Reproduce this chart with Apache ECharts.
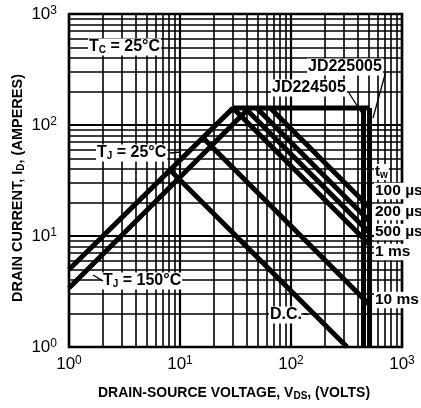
<!DOCTYPE html>
<html>
<head>
<meta charset="utf-8">
<script src="https://cdn.jsdelivr.net/npm/echarts@6/dist/echarts.min.js"></script>
<style>
  html, body { margin: 0; padding: 0; background: #fff; }
  #chart { width: 421px; height: 408px; }
</style>
</head>
<body>
<div id="chart"></div>
<script>
// safe operating area, log-log
const tj25Line = [[1, 5.0], [30, 142]];
const tj150Line = [[1, 3.4], [42, 142]];
const currentLimit = [[30, 142], [510, 142]];
const vLimit450 = [[450, 1], [450, 142]];
const vLimit500 = [[510, 1], [510, 142]];
const pulse100us = [[65, 142], [510, 18.1]];
const pulse200us = [[49, 142], [510, 13.6]];
const pulse500us = [[38.5, 142], [510, 10.7]];
const pulse1ms = [[30, 142], [510, 8.4]];
const pulse10ms = [[16, 77], [510, 2.4]];
const dcLine = [[8, 40], [320, 1]];

// log grid lines between the decades
const minorGrid = [2, 3, 4, 5, 6, 7, 8, 9, 20, 30, 40, 50, 60, 70, 80, 90, 200, 300, 400, 500, 600, 700, 800, 900];

const FONT = '"Liberation Sans", Arial, sans-serif';

const chart = echarts.init(document.getElementById("chart"));

function curve(data, width) {
  return {
    type: "line",
    data: data,
    symbol: "none",
    silent: true,
    z: 5,
    lineStyle: { color: "#000", width: width || 5, cap: "butt" },
  };
}

function powLabel(v) {
  const e = Math.round(Math.log10(v));
  return "{b|10}{s|" + e + "}";
}
const tickRich = {
  b: { fontSize: 17, lineHeight: 19, color: "#000", fontFamily: FONT },
  s: { fontSize: 12, lineHeight: 8, verticalAlign: "top", color: "#000", fontFamily: FONT },
};

function note(x, y, text, size) {
  const s = size || 16;
  return {
    type: "text",
    x: x,
    y: y,
    z: 100,
    style: {
      text: text,
      rich: {
        n: { fontSize: s, fontWeight: "bold", lineHeight: s + 1, fontFamily: FONT },
        sub: { fontSize: 10, fontWeight: "bold", lineHeight: 9, verticalAlign: "bottom", fontFamily: FONT },
      },
      fill: "#000",
      backgroundColor: "#fff",
      padding: [0, 1],
      verticalAlign: "middle",
    },
  };
}

function leader(x1, y1, x2, y2) {
  return {
    type: "line",
    z: 101,
    shape: { x1: x1, y1: y1, x2: x2, y2: y2 },
    style: { stroke: "#000", lineWidth: 1.3 },
  };
}

const option = {
  animation: false,
  backgroundColor: "#fff",
  grid: {
    left: 69,
    top: 14,
    right: 19,
    bottom: 61,
    show: true,
    borderColor: "#000",
    borderWidth: 2.5,
    backgroundColor: "#fff",
  },
  xAxis: {
    type: "log",
    logBase: 10,
    min: 1,
    max: 1000,
    axisLine: { show: false },
    axisTick: { show: false },
    splitLine: { show: true, lineStyle: { color: "#000", width: 2.2 } },
    axisLabel: { margin: 8, fontSize: 17, formatter: powLabel, rich: tickRich },
  },
  yAxis: {
    type: "log",
    logBase: 10,
    min: 1,
    max: 1000,
    axisLine: { show: false },
    axisTick: { show: false },
    splitLine: { show: true, lineStyle: { color: "#000", width: 2.2 } },
    axisLabel: { margin: 12, fontSize: 17, formatter: powLabel, rich: tickRich },
  },
  series: [
    {
      type: "line",
      data: [],
      silent: true,
      z: 1,
      markLine: {
        silent: true,
        symbol: ["none", "none"],
        label: { show: false },
        animation: false,
        lineStyle: { color: "#000", width: 1.6, type: "solid" },
        data: minorGrid
          .map((v) => ({ xAxis: v }))
          .concat(minorGrid.map((v) => ({ yAxis: v }))),
      },
    },
    curve(tj25Line),
    curve(tj150Line),
    curve(currentLimit),
    curve(pulse100us),
    curve(pulse200us),
    curve(pulse500us),
    curve(pulse1ms),
    curve(pulse10ms),
    curve(dcLine),
    curve(vLimit450, 5),
    curve(vLimit500, 5),
  ],
  graphic: [
    note(88, 47, "{n|T}{sub|C}{n| = 25°C}"),
    note(96, 153, "{n|T}{sub|J}{n| = 25°C}"),
    leader(170, 153, 181, 152),
    note(102, 281, "{n|T}{sub|J}{n| = 150°C}"),
    leader(93, 275, 103, 281),
    note(269, 315, "{n|D.C.}"),
    leader(301, 314, 308, 314),
    note(307, 67, "{n|JD225005}"),
    leader(386, 71, 373, 118),
    note(271, 88, "{n|JD224505}"),
    leader(349, 93, 363, 115),
    note(374, 172, "{n|t}{sub|w}", 15),
    note(374, 191, "{n|100 µs}", 15.5),
    note(374, 212, "{n|200 µs}", 15.5),
    note(374, 232, "{n|500 µs}", 15.5),
    note(374, 252, "{n|1 ms}", 15.5),
    note(374, 300, "{n|10 ms}", 15.5),
    {
      type: "text",
      x: 234,
      y: 393,
      z: 100,
      style: {
        text: "{t|DRAIN-SOURCE VOLTAGE, V}{d|DS}{t|, (VOLTS)}",
        align: "center",
        verticalAlign: "middle",
        rich: {
          t: { fontSize: 14, fontWeight: "bold", lineHeight: 16, fontFamily: FONT },
          d: { fontSize: 10, fontWeight: "bold", lineHeight: 10, verticalAlign: "bottom", fontFamily: FONT },
        },
      },
    },
    {
      type: "text",
      x: 18,
      y: 188,
      rotation: Math.PI / 2,
      z: 100,
      style: {
        text: "{t|DRAIN CURRENT, I}{d|D}{t|, (AMPERES)}",
        align: "center",
        verticalAlign: "middle",
        rich: {
          t: { fontSize: 14.5, fontWeight: "bold", lineHeight: 16, fontFamily: FONT },
          d: { fontSize: 10, fontWeight: "bold", lineHeight: 10, verticalAlign: "bottom", fontFamily: FONT },
        },
      },
    },
  ],
};

chart.setOption(option);
</script>
</body>
</html>
